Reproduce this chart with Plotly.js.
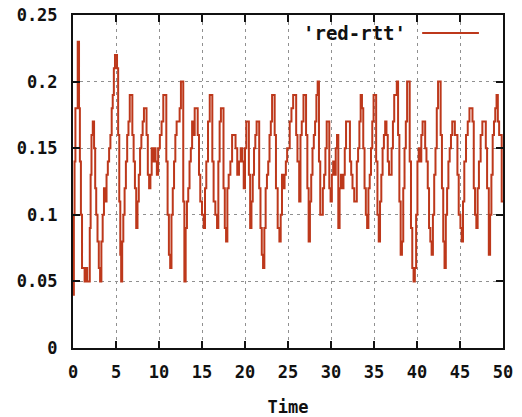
<!DOCTYPE html>
<html>
<head>
<meta charset="utf-8">
<script src="https://cdn.plot.ly/plotly-3.0.1.min.js"></script>
<style>html,body{margin:0;padding:0;background:#fff;}#chart{width:522px;height:417px;}</style>
</head>
<body>
<div id="chart"></div>
<script>
const seriesName = "'red-rtt'";
const xTitle = "Time";

const time = [
  0.00,0.10,0.18,0.28,0.40,0.55,0.70,0.80,0.92,1.05,1.20,1.35,1.50,1.65,1.80,1.95,2.05,2.15,2.30,2.45,2.58,2.70,2.85,3.00,3.15,3.30,3.45,3.60,3.75,3.90,4.05,4.20,4.35,4.50,4.62,4.75,4.88,5.00,5.12,5.25,5.38,5.50,5.60,5.72,5.85,6.00,6.15,6.30,6.45,6.60,6.75,6.90,7.05,7.20,7.35,7.50,7.65,7.80,7.95,8.10,8.25,8.40,8.55,8.70,8.85,9.00,9.15,9.30,9.45,9.60,9.75,9.90,
  10.10,10.30,10.50,10.70,10.85,11.00,11.15,11.30,11.45,11.60,11.75,11.90,12.05,12.20,12.40,12.55,12.70,12.82,12.95,13.10,13.25,13.40,13.55,13.70,13.85,14.00,14.15,14.35,14.50,14.65,14.80,15.00,15.20,15.35,15.50,15.70,15.90,16.05,16.20,16.35,16.55,16.75,16.90,17.05,17.20,17.35,17.50,17.65,17.80,17.95,18.10,18.30,18.50,18.70,18.90,19.10,19.30,19.50,19.70,19.85,
  20.00,20.15,20.30,20.45,20.60,20.75,20.90,21.05,21.20,21.35,21.50,21.65,21.80,21.95,22.10,22.25,22.40,22.55,22.70,22.85,23.00,23.15,23.30,23.45,23.60,23.80,24.00,24.15,24.30,24.45,24.60,24.75,24.90,25.05,25.20,25.40,25.60,25.80,25.95,26.10,26.30,26.45,26.60,26.80,26.95,27.10,27.25,27.40,27.55,27.70,27.85,28.00,28.15,28.30,28.45,28.60,28.75,28.90,29.05,29.20,29.35,29.50,29.65,29.80,29.95,
  30.10,30.25,30.40,30.55,30.70,30.85,31.00,31.15,31.30,31.45,31.60,31.75,31.90,32.05,32.20,32.35,32.50,32.70,32.85,33.00,33.15,33.30,33.45,33.60,33.75,33.90,34.05,34.20,34.35,34.50,34.65,34.80,34.95,35.10,35.25,35.40,35.55,35.70,35.85,36.00,36.15,36.30,36.45,36.60,36.75,36.90,37.05,37.20,37.35,37.50,37.65,37.80,37.95,38.10,38.25,38.40,38.55,38.70,38.85,39.00,39.15,39.30,39.45,39.60,39.75,
  39.90,40.05,40.20,40.35,40.50,40.65,40.80,40.95,41.10,41.25,41.40,41.55,41.70,41.85,42.00,42.15,42.30,42.45,42.60,42.75,42.90,43.05,43.20,43.35,43.50,43.65,43.80,43.95,44.10,44.25,44.40,44.55,44.70,44.85,45.05,45.20,45.35,45.50,45.70,45.90,46.10,46.30,46.45,46.60,46.75,46.90,47.05,47.20,47.40,47.60,47.80,48.00,48.15,48.35,48.50,48.65,48.80,48.95,49.10,49.25,49.40,49.55,49.70,49.85,50.00
];

const rtt = [
  0.04,0.10,0.14,0.18,0.18,0.23,0.18,0.14,0.10,0.06,0.06,0.05,0.06,0.05,0.05,0.09,0.13,0.16,0.17,0.15,0.12,0.10,0.08,0.06,0.05,0.08,0.10,0.12,0.11,0.13,0.14,0.15,0.16,0.18,0.19,0.21,0.22,0.22,0.21,0.16,0.11,0.07,0.05,0.08,0.10,0.12,0.14,0.16,0.17,0.19,0.19,0.16,0.14,0.12,0.09,0.11,0.13,0.15,0.16,0.17,0.18,0.18,0.16,0.13,0.12,0.13,0.15,0.14,0.15,0.14,0.13,0.15,
  0.16,0.17,0.19,0.19,0.14,0.10,0.07,0.06,0.10,0.12,0.14,0.16,0.17,0.17,0.18,0.20,0.20,0.11,0.05,0.09,0.11,0.12,0.14,0.15,0.17,0.16,0.18,0.18,0.16,0.13,0.11,0.10,0.09,0.12,0.14,0.17,0.19,0.19,0.14,0.11,0.10,0.09,0.14,0.17,0.18,0.18,0.12,0.09,0.08,0.12,0.13,0.14,0.16,0.16,0.15,0.13,0.14,0.15,0.14,0.12,
  0.15,0.17,0.17,0.13,0.09,0.11,0.13,0.15,0.16,0.17,0.17,0.12,0.09,0.07,0.06,0.09,0.12,0.13,0.14,0.16,0.17,0.19,0.19,0.16,0.12,0.09,0.08,0.10,0.13,0.12,0.13,0.14,0.15,0.15,0.17,0.18,0.19,0.19,0.16,0.14,0.11,0.16,0.17,0.19,0.19,0.16,0.12,0.08,0.11,0.13,0.15,0.16,0.17,0.19,0.20,0.14,0.10,0.10,0.12,0.13,0.15,0.17,0.17,0.12,0.11,
  0.13,0.14,0.13,0.15,0.16,0.09,0.12,0.13,0.12,0.13,0.15,0.17,0.17,0.17,0.14,0.13,0.12,0.11,0.11,0.14,0.15,0.17,0.19,0.18,0.15,0.12,0.10,0.09,0.12,0.13,0.15,0.17,0.19,0.19,0.14,0.10,0.08,0.11,0.13,0.15,0.16,0.17,0.16,0.14,0.13,0.13,0.15,0.17,0.19,0.19,0.20,0.16,0.11,0.07,0.08,0.12,0.15,0.17,0.20,0.20,0.14,0.09,0.06,0.05,0.06,
  0.10,0.14,0.15,0.14,0.16,0.17,0.17,0.15,0.14,0.12,0.09,0.08,0.07,0.10,0.13,0.15,0.18,0.20,0.20,0.16,0.12,0.08,0.06,0.10,0.12,0.14,0.15,0.16,0.17,0.17,0.16,0.16,0.13,0.10,0.09,0.08,0.11,0.14,0.16,0.17,0.18,0.18,0.17,0.12,0.10,0.09,0.12,0.14,0.16,0.17,0.17,0.15,0.12,0.07,0.10,0.13,0.16,0.17,0.18,0.19,0.17,0.16,0.16,0.11,0.11
];

const xTicks = [0,5,10,15,20,25,30,35,40,45,50];
const yTicks = [0,0.05,0.1,0.15,0.2,0.25];
const yTickText = ["0","0.05","0.1","0.15","0.2","0.25"];

const n = Math.min(time.length, rtt.length);
const lineColor = '#bd381b';
const tickFont = {family: 'DejaVu Sans Mono', size: 17, color: '#111', weight: 'bold'};

const trace = {
  x: time.slice(0, n), y: rtt.slice(0, n),
  type: 'scatter', mode: 'lines', name: seriesName,
  line: {color: lineColor, width: 2, shape: 'hv'},
  hoverinfo: 'skip'
};

const axisCommon = {
  showline: true, linecolor: '#111', linewidth: 2, mirror: 'ticks',
  ticks: 'inside', ticklen: 7, tickwidth: 2, tickcolor: '#111',
  showgrid: true, gridcolor: '#909090', gridwidth: 1, griddash: '3px,4px',
  zeroline: false, tickfont: tickFont
};

const layout = {
  width: 522, height: 417,
  margin: {l: 73, r: 19, t: 15, b: 69},
  paper_bgcolor: '#fff', plot_bgcolor: '#fff',
  showlegend: false,
  xaxis: Object.assign({}, axisCommon, {
    range: [0, 50], tickvals: xTicks, ticktext: xTicks.map(String),
    ticklabelstandoff: 8,
    title: {text: xTitle, font: tickFont, standoff: 20}
  }),
  yaxis: Object.assign({}, axisCommon, {
    range: [0, 0.25], tickvals: yTicks, ticktext: yTickText,
    ticklabelstandoff: 10
  }),
  annotations: [{
    text: seriesName, xref: 'paper', yref: 'paper',
    x: 0.779, y: 0.946, xanchor: 'right', yanchor: 'middle',
    showarrow: false, font: {family: 'DejaVu Sans Mono', size: 19, color: '#111', weight: 'bold'}
  }],
  shapes: [{
    type: 'line', xref: 'paper', yref: 'paper',
    x0: 0.812, x1: 0.944, y0: 0.946, y1: 0.946,
    line: {color: lineColor, width: 2}
  }]
};

Plotly.newPlot('chart', [trace], layout, {staticPlot: true, displayModeBar: false});
</script>
</body>
</html>
